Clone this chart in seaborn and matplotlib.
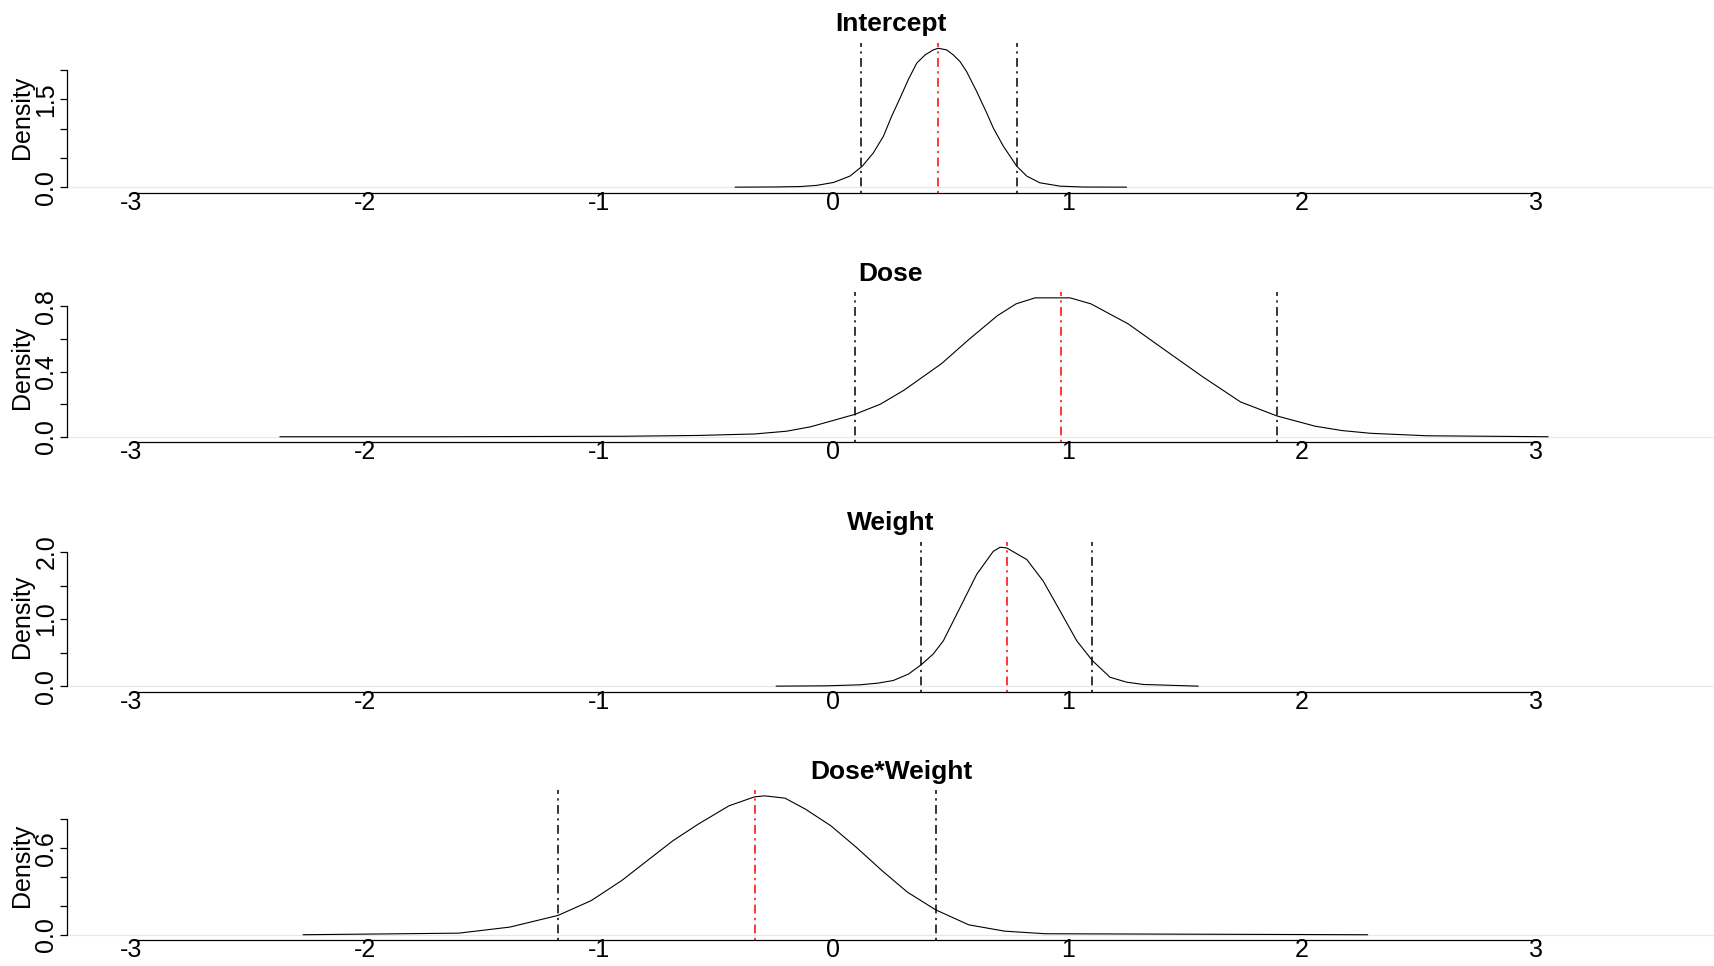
import matplotlib
matplotlib.use("Agg")
import matplotlib.pyplot as plt
import pandas as pd
import seaborn as sns

# Posterior density curves for each regression coefficient
titles = ["Intercept", "Dose", "Weight", "Dose*Weight"]

intercept_x = [-0.420, -0.250, -0.143, -0.072, 0.000, 0.070, 0.123, 0.170, 0.213, 0.248,
               0.284, 0.319, 0.355, 0.391, 0.426, 0.447, 0.483, 0.511, 0.540, 0.568,
               0.611, 0.654, 0.682, 0.725, 0.782, 0.825, 0.881, 0.967, 1.066, 1.251]
intercept_d = [0.000, 0.003, 0.010, 0.030, 0.080, 0.188, 0.358, 0.584, 0.868, 1.208,
               1.520, 1.832, 2.115, 2.257, 2.342, 2.370, 2.342, 2.257, 2.143, 1.973,
               1.633, 1.265, 1.010, 0.698, 0.358, 0.188, 0.074, 0.017, 0.002, 0.000]

dose_x = [-2.363, -1.693, -0.895, -0.576, -0.337, -0.200, -0.098, 0.090, 0.200, 0.301,
          0.461, 0.580, 0.700, 0.779, 0.860, 1.010, 1.099, 1.258, 1.417, 1.577,
          1.737, 1.892, 2.055, 2.170, 2.294, 2.533, 3.050]
dose_d = [0.000, 0.000, 0.003, 0.008, 0.017, 0.034, 0.061, 0.137, 0.200, 0.286,
          0.449, 0.600, 0.744, 0.816, 0.853, 0.853, 0.816, 0.693, 0.530, 0.367,
          0.214, 0.128, 0.065, 0.038, 0.021, 0.006, 0.000]

weight_x = [-0.245, -0.029, 0.113, 0.190, 0.255, 0.320, 0.375, 0.426, 0.469, 0.540,
            0.611, 0.682, 0.711, 0.739, 0.825, 0.895, 0.967, 1.038, 1.105, 1.180,
            1.250, 1.322, 1.557]
weight_d = [0.000, 0.005, 0.020, 0.045, 0.084, 0.180, 0.321, 0.480, 0.677, 1.170,
            1.665, 2.010, 2.070, 2.060, 1.887, 1.566, 1.121, 0.677, 0.380, 0.133,
            0.060, 0.025, 0.000]

doseweight_x = [-2.264, -1.600, -1.382, -1.176, -1.034, -0.904, -0.795, -0.685, -0.577,
                -0.446, -0.337, -0.294, -0.207, -0.120, -0.011, 0.098, 0.207, 0.316,
                0.436, 0.577, 0.730, 0.903, 2.280]
doseweight_d = [0.000, 0.011, 0.053, 0.134, 0.237, 0.376, 0.514, 0.653, 0.768,
                0.895, 0.957, 0.964, 0.948, 0.872, 0.756, 0.606, 0.445, 0.295,
                0.173, 0.069, 0.025, 0.007, 0.000]

curves_x = [intercept_x, dose_x, weight_x, doseweight_x]
curves_d = [intercept_d, dose_d, weight_d, doseweight_d]

# Posterior mean and 95% credible limits
ci_lower = [0.118, 0.090, 0.375, -1.176]
post_mean = [0.448, 0.971, 0.739, -0.337]
ci_upper = [0.784, 1.892, 1.105, 0.436]

x_ticks = [-3, -2, -1, 0, 1, 2, 3]
x_tick_labels = ["-3", "-2", "-1", "0", "1", "2", "3"]

y_ticks = [[0.0, 0.5, 1.0, 1.5, 2.0],
           [0.0, 0.2, 0.4, 0.6, 0.8],
           [0.0, 0.5, 1.0, 1.5, 2.0],
           [0.0, 0.2, 0.4, 0.6, 0.8]]
y_tick_labels = [["0.0", "", "", "1.5", ""],
                 ["0.0", "", "0.4", "", "0.8"],
                 ["0.0", "", "1.0", "", "2.0"],
                 ["0.0", "", "", "0.6", ""]]

sns.set_theme(style="white")
plt.rcParams["font.family"] = ["Liberation Sans", "DejaVu Sans"]
plt.rcParams["axes.unicode_minus"] = False
plt.rcParams["text.color"] = "black"
plt.rcParams["axes.labelcolor"] = "black"

W, H = 1715, 966
fig = plt.figure(figsize=(W / 100, H / 100), dpi=100)

left_px = 67
zero_px = 833.5
unit_px = 234.3
x_lo = (left_px - zero_px) / unit_px
x_hi = (W - zero_px) / unit_px
panel_bottoms = [192.7, 442.3, 691.7, 940.3]
panel_h = 150

dotdash = (1.44, 2.9, 5.8, 2.9)

for i, title in enumerate(titles):
    ax = fig.add_axes([left_px / W, (H - panel_bottoms[i]) / H,
                       1 - left_px / W, panel_h / H])
    df = pd.DataFrame({"x": curves_x[i], "density": curves_d[i]})
    peak = df["density"].max()

    ax.axhline(0, color="#e8e8e8", lw=0.9, zorder=1)
    sns.lineplot(data=df, x="x", y="density", ax=ax, color="black",
                 lw=0.8, zorder=3)
    ax.axvline(ci_lower[i], color="black", lw=1.1, dashes=dotdash, zorder=2)
    ax.axvline(ci_upper[i], color="black", lw=1.1, dashes=dotdash, zorder=2)
    ax.axvline(post_mean[i], color="red", lw=1.1, dashes=dotdash, zorder=2)

    ax.set_xlim(x_lo, x_hi)
    ax.set_ylim(-0.04 * peak, 1.04 * peak)

    for side in ("top", "right"):
        ax.spines[side].set_visible(False)
    ax.spines["bottom"].set_bounds(-3, 3)
    ax.spines["left"].set_bounds(y_ticks[i][0], y_ticks[i][-1])
    for side in ("bottom", "left"):
        ax.spines[side].set_color("black")
        ax.spines[side].set_linewidth(0.9)

    ax.set_xticks(x_ticks)
    ax.set_xticklabels(x_tick_labels)
    ax.set_yticks(y_ticks[i])
    ax.set_yticklabels(y_tick_labels[i])
    ax.tick_params(axis="x", length=0, pad=-1.5, labelsize=18, colors="black")
    ax.tick_params(axis="y", left=True, length=4.8, width=0.9, pad=1.4,
                   labelsize=18, colors="black", direction="out")
    for lab in ax.get_yticklabels():
        lab.set_rotation(90)
        lab.set_va("center")

    ax.set_xlabel("")
    ax.set_ylabel("Density", fontsize=18, color="black")
    ax.yaxis.set_label_coords(-0.0203, 0.5)
    ax.set_title(title, fontsize=19, fontweight="bold", pad=8.3, color="black")

fig.savefig("out.png", dpi=100)
